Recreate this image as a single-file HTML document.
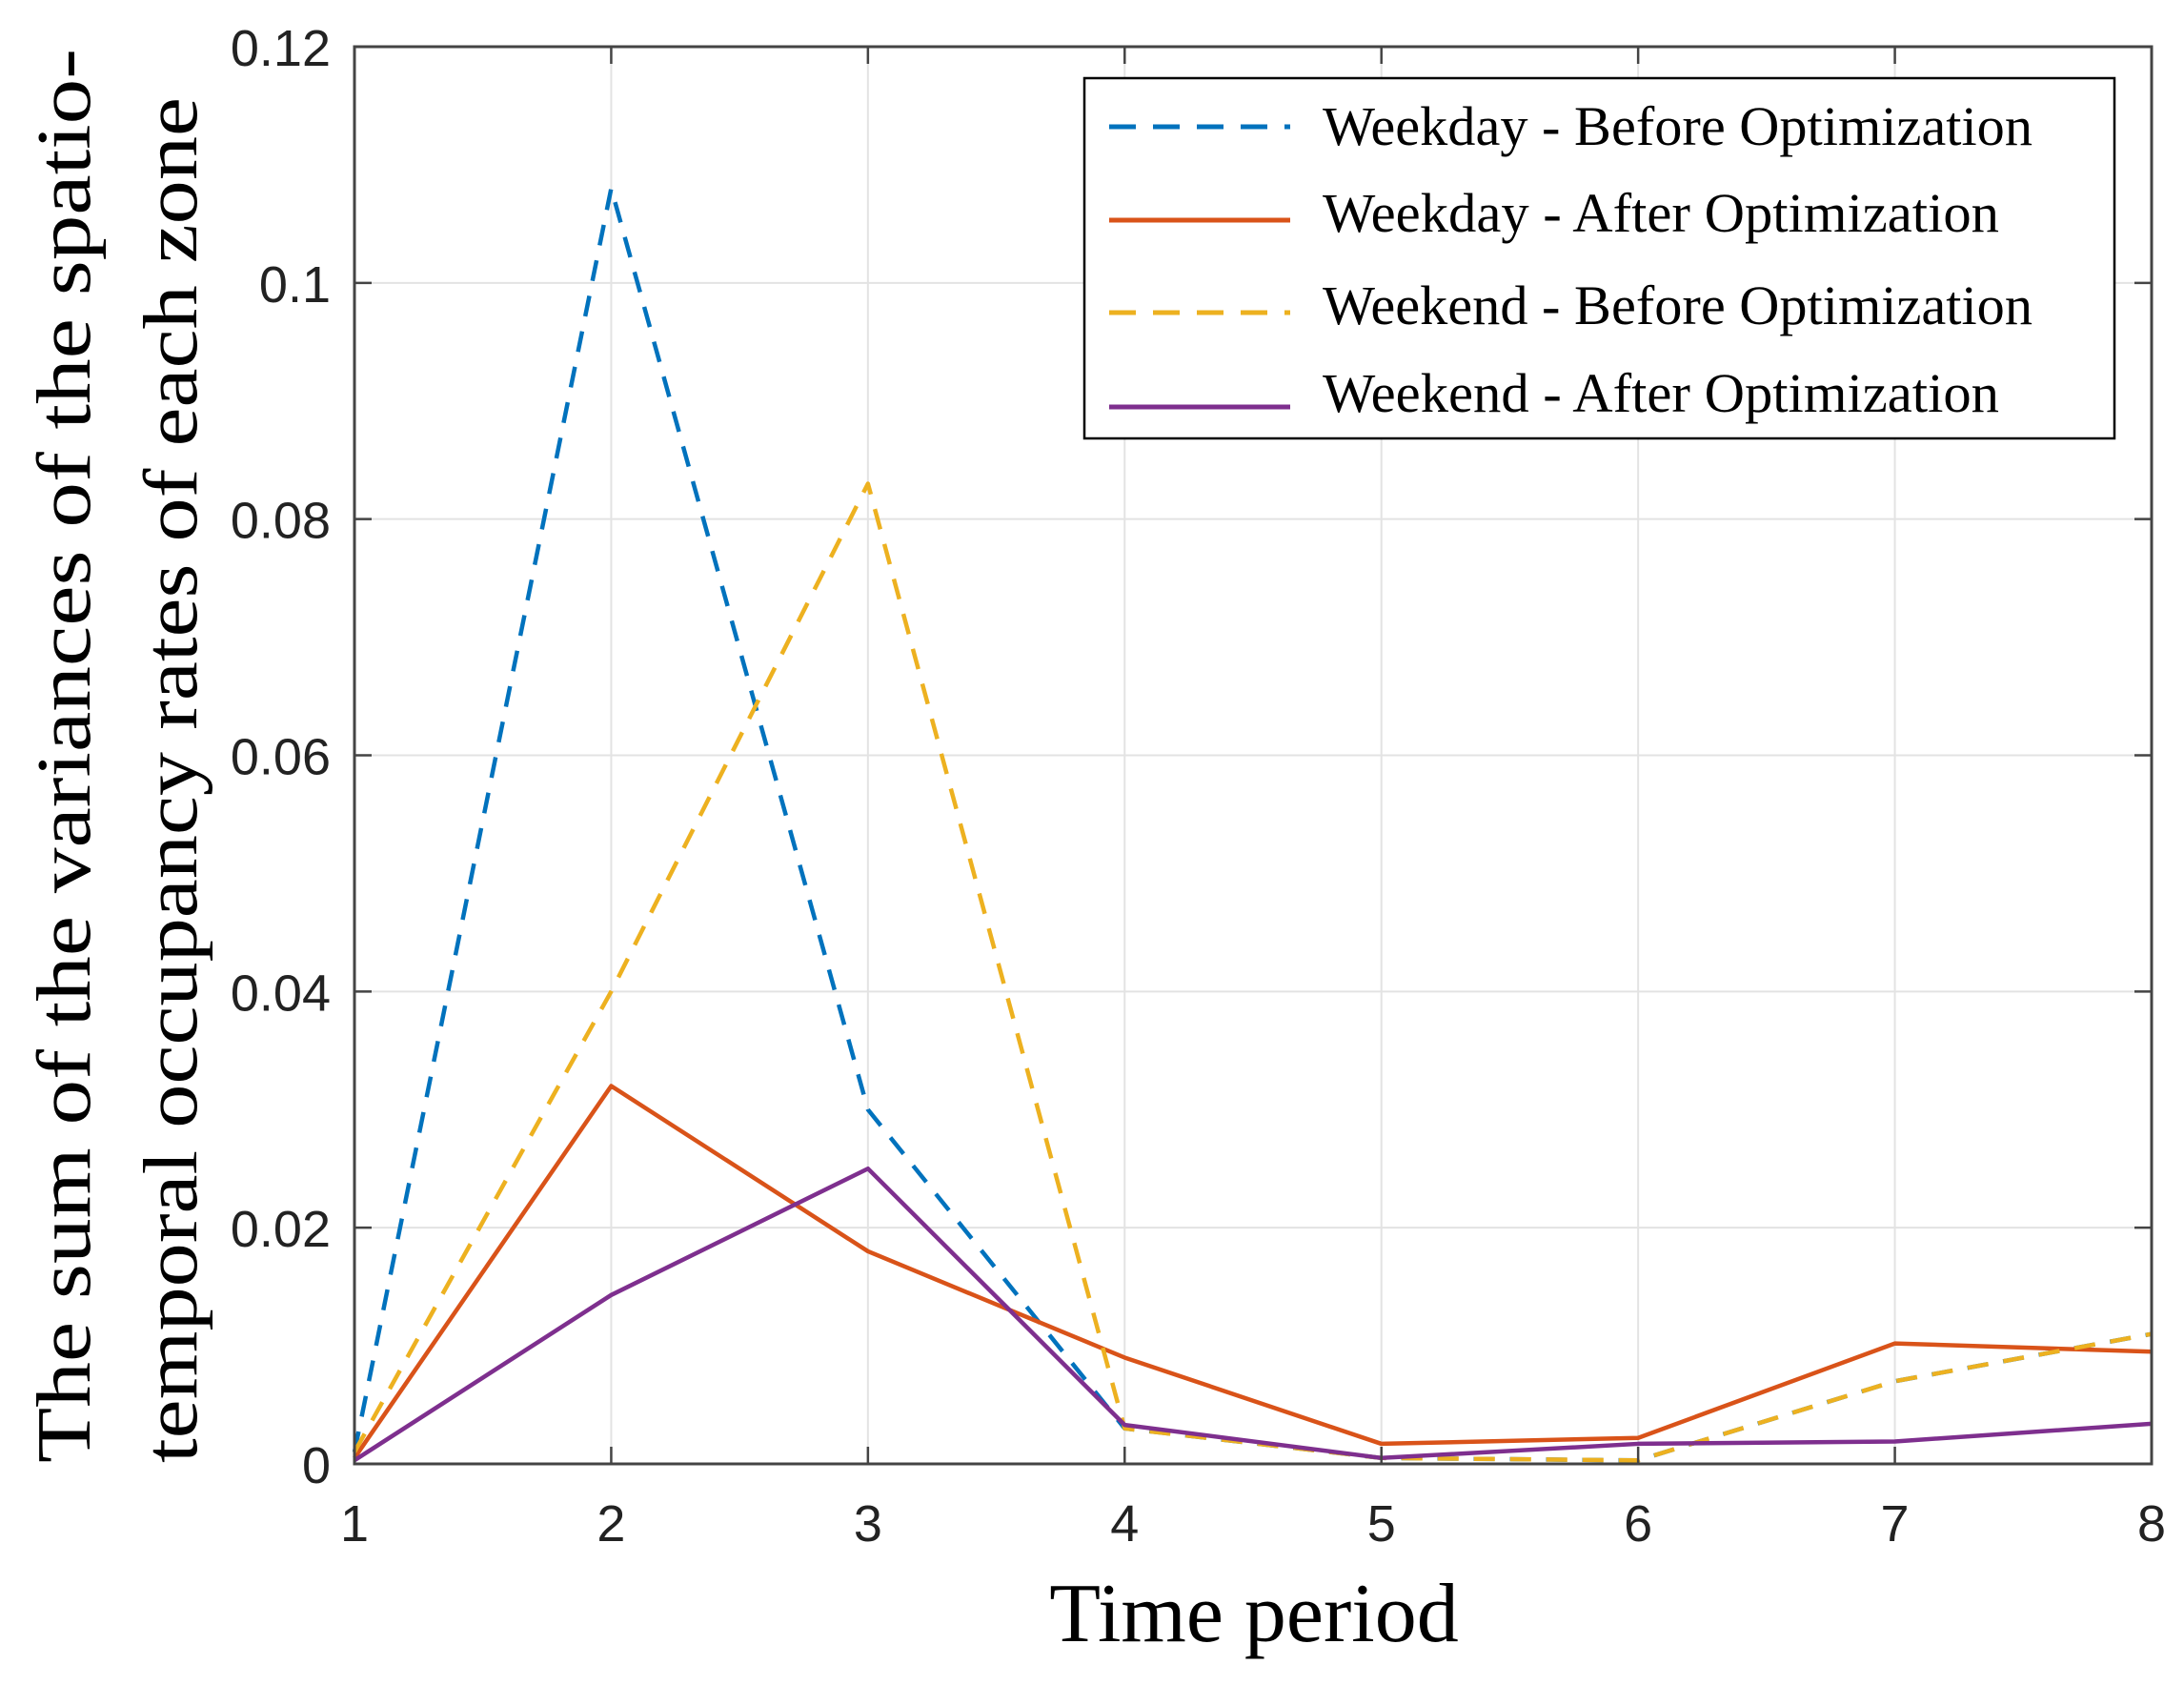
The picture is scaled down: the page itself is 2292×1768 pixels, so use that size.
<!DOCTYPE html>
<html><head><meta charset="utf-8"><style>
html,body{margin:0;padding:0;background:#fff;}
svg{display:block;}
</style></head><body>
<svg id="chart" width="2292" height="1768" viewBox="0 0 2292 1768" xmlns="http://www.w3.org/2000/svg">
<rect width="2292" height="1768" fill="#fff"/>
<g id="grid"></g>
<g id="series"></g>
<g id="axes"></g>
<text x="1316" y="1722" font-family="Liberation Serif, serif" font-size="88" text-anchor="middle" fill="#000">Time period</text>
<text transform="translate(94,1535) rotate(-90)" font-family="Liberation Serif, serif" font-size="80" fill="#000" textLength="1484" lengthAdjust="spacingAndGlyphs">The sum of the variances of the spatio-</text>
<text transform="translate(206,1535) rotate(-90)" font-family="Liberation Serif, serif" font-size="80" fill="#000" textLength="1433" lengthAdjust="spacingAndGlyphs">temporal occupancy rates of each zone</text>
<g id="legend">
<rect x="1138" y="82" width="1081" height="378" fill="#fff" stroke="#000" stroke-width="2.5"/>
</g>
</svg>
<script>
const categories = [1,2,3,4,5,6,7,8];
const weekdayBefore = [0.001,0.108,0.030,0.003,0.0005,0.0003,0.007,0.011];
const weekdayAfter = [0.0005,0.032,0.018,0.009,0.0017,0.0022,0.0102,0.0095];
const weekendBefore = [0.001,0.040,0.083,0.003,0.0005,0.0003,0.007,0.011];
const weekendAfter = [0.0003,0.0143,0.025,0.0033,0.0005,0.0017,0.0019,0.0034];
const yTicks = [0,0.02,0.04,0.06,0.08,0.1,0.12];
const yTickLabels = ["0","0.02","0.04","0.06","0.08","0.1","0.12"];
const seriesNames = ["Weekday - Before Optimization","Weekday - After Optimization","Weekend - Before Optimization","Weekend - After Optimization"];

const L=372,R=2258,T=49,B=1536;
const NS="http://www.w3.org/2000/svg";
function xs(v){return L+(v-1)/(8-1)*(R-L);}
function ys(v){return B-v/0.12*(B-T);}
function mk(tag,attrs,parent){const e=document.createElementNS(NS,tag);for(const k in attrs)e.setAttribute(k,attrs[k]);parent.appendChild(e);return e;}
const grid=document.getElementById('grid'),axes=document.getElementById('axes'),ser=document.getElementById('series'),leg=document.getElementById('legend');
categories.forEach(c=>{
  const g=mk('line',{x1:xs(c),x2:xs(c),y1:T,y2:B,stroke:'#e3e3e3','stroke-width':2},grid);
  
  
  const t=mk('line',{x1:xs(c),x2:xs(c),y1:B,y2:B-18,stroke:'#444','stroke-width':2.5},axes);
  
  
  const t2=mk('line',{x1:xs(c),x2:xs(c),y1:T,y2:T+18,stroke:'#444','stroke-width':2.5},axes);
  
  
  const lb=mk('text',{x:xs(c),y:1617,'font-family':'Liberation Sans, sans-serif','font-size':54,'text-anchor':'middle',fill:'#222'},axes);
  
  
  lb.textContent=c;
});
yTicks.forEach((v,i)=>{
  const g=mk('line',{x1:L,x2:R,y1:ys(v),y2:ys(v),stroke:'#e3e3e3','stroke-width':2},grid);
  
  
  const t=mk('line',{x1:L,x2:L+18,y1:ys(v),y2:ys(v),stroke:'#444','stroke-width':2.5},axes);
  
  
  const t2=mk('line',{x1:R,x2:R-18,y1:ys(v),y2:ys(v),stroke:'#444','stroke-width':2.5},axes);
  
  
  const lb=mk('text',{x:347,y:ys(v)+20,'font-family':'Liberation Sans, sans-serif','font-size':54,'text-anchor':'end',fill:'#222'},axes);
  
  
  lb.textContent=yTickLabels[i];
});
const frame=mk('rect',{x:L,y:T,width:R-L,height:B-T,fill:'none',stroke:'#444','stroke-width':3},axes);



const styles=[
 {data:weekdayBefore,color:'#0072BD',dash:'22 16',name:'series-weekday-before'},
 {data:weekdayAfter,color:'#D95319',dash:'',name:'series-weekday-after'},
 {data:weekendBefore,color:'#EDB120',dash:'22 16',name:'series-weekend-before'},
 {data:weekendAfter,color:'#7E2F8E',dash:'',name:'series-weekend-after'}
];
const legY=[133,231,328,427],txtY=[152,243,340,432],txtLen=[745,710,745,710];
styles.forEach((s,i)=>{
  const pts=s.data.map((v,j)=>xs(categories[j])+','+ys(v)).join(' ');
  const p=mk('polyline',{points:pts,fill:'none',stroke:s.color,'stroke-width':4.5,'stroke-dasharray':s.dash,'stroke-linejoin':'round'},ser);
  
  
  const ll=mk('line',{x1:1164,x2:1354,y1:legY[i],y2:legY[i],stroke:s.color,'stroke-width':5,'stroke-dasharray':s.dash?'28 18':''},leg);
  
  
  const tx=mk('text',{x:1388,y:txtY[i],'font-family':'Liberation Serif, serif','font-size':58,fill:'#000',textLength:txtLen[i],lengthAdjust:'spacingAndGlyphs'},leg);
  
  
  tx.textContent=seriesNames[i];
});
</script>
</body></html>
